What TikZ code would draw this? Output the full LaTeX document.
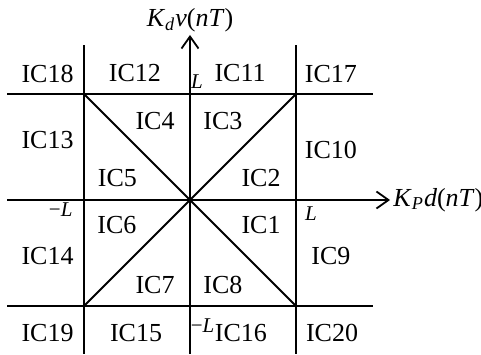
\documentclass[tikz,border=0pt]{standalone}
\usepackage{fontspec}
\setmainfont{Liberation Serif}
\usepackage{tikz}
\usetikzlibrary{arrows.meta}
\tikzset{
  gline/.style={line width=0.9pt, draw=black},
  axisln/.style={gline, -{Straight Barb[length=6pt,width=8.5pt,line width=0.9pt]}},
  icl/.style={font=\fontsize{13}{15}\selectfont, inner sep=0pt},
  lim/.style={font=\fontsize{10.5}{12}\selectfont, inner sep=0pt},
  axl/.style={font=\fontsize{13}{15}\selectfont, inner sep=1.5pt},
}

\begin{document}
\begin{tikzpicture}[x=53pt,y=53pt]
\useasboundingbox (-1.7925,-1.4528) rectangle (2.7453,1.8868);

\coordinate (o)  at (0,0);
\coordinate (ne) at (1,1);
\coordinate (nw) at (-1,1);
\coordinate (se) at (1,-1);
\coordinate (sw) at (-1,-1);
\coordinate (xs) at (-1.726,0);
\coordinate (xe) at (1.887,0);
\coordinate (ys) at (0,-1.453);
\coordinate (ye) at (0,1.557);
\coordinate (ta) at (-1.726,1);
\coordinate (tb) at (1.726,1);
\coordinate (ba) at (-1.726,-1);
\coordinate (bb) at (1.726,-1);
\coordinate (la) at (-1,1.462);
\coordinate (lb) at (-1,-1.453);
\coordinate (ra) at (1,1.462);
\coordinate (rb) at (1,-1.453);

\draw[gline] (ta) -- (tb);
\draw[gline] (ba) -- (bb);
\draw[gline] (la) -- (lb);
\draw[gline] (ra) -- (rb);
\draw[gline] (sw) -- (ne);
\draw[gline] (nw) -- (se);
\draw[axisln] (xs) -- (xe);
\draw[axisln] (ys) -- (ye);

\node[axl, anchor=west]  (kp) at (xe) {\textit{K}\textsubscript{\textit{P}}\textit{d}(\textit{nT})};
\node[axl, anchor=south] (kd) at (ye) {\textit{K}\textsubscript{\textit{d}}\textit{v}(\textit{nT})};

\node[icl] (ic1)  at (0.670,-0.236) {IC1};
\node[icl] (ic2)  at (0.670,0.208)  {IC2};
\node[icl] (ic3)  at (0.311,0.745)  {IC3};
\node[icl] (ic4)  at (-0.330,0.745) {IC4};
\node[icl] (ic5)  at (-0.684,0.208) {IC5};
\node[icl] (ic6)  at (-0.689,-0.236) {IC6};
\node[icl] (ic7)  at (-0.330,-0.802) {IC7};
\node[icl] (ic8)  at (0.311,-0.802) {IC8};
\node[icl] (ic9)  at (1.330,-0.528) {IC9};
\node[icl] (ic10) at (1.330,0.472)  {IC10};
\node[icl] (ic11) at (0.472,1.198)  {IC11};
\node[icl] (ic12) at (-0.519,1.198) {IC12};
\node[icl] (ic13) at (-1.344,0.566) {IC13};
\node[icl] (ic14) at (-1.344,-0.528) {IC14};
\node[icl] (ic15) at (-0.509,-1.255) {IC15};
\node[icl] (ic16) at (0.481,-1.255) {IC16};
\node[icl] (ic17) at (1.330,1.189)  {IC17};
\node[icl] (ic18) at (-1.344,1.189) {IC18};
\node[icl] (ic19) at (-1.344,-1.255) {IC19};
\node[icl] (ic20) at (1.340,-1.255) {IC20};

\node[lim] (ltop) at (0.066,1.113)  {\textit{L}};
\node[lim] (lbot) at (0.118,-1.185) {−\textit{L}};
\node[lim] (llft) at (-1.220,-0.094) {−\textit{L}};
\node[lim] (lrgt) at (1.142,-0.132) {\textit{L}};
\end{tikzpicture}
\end{document}
